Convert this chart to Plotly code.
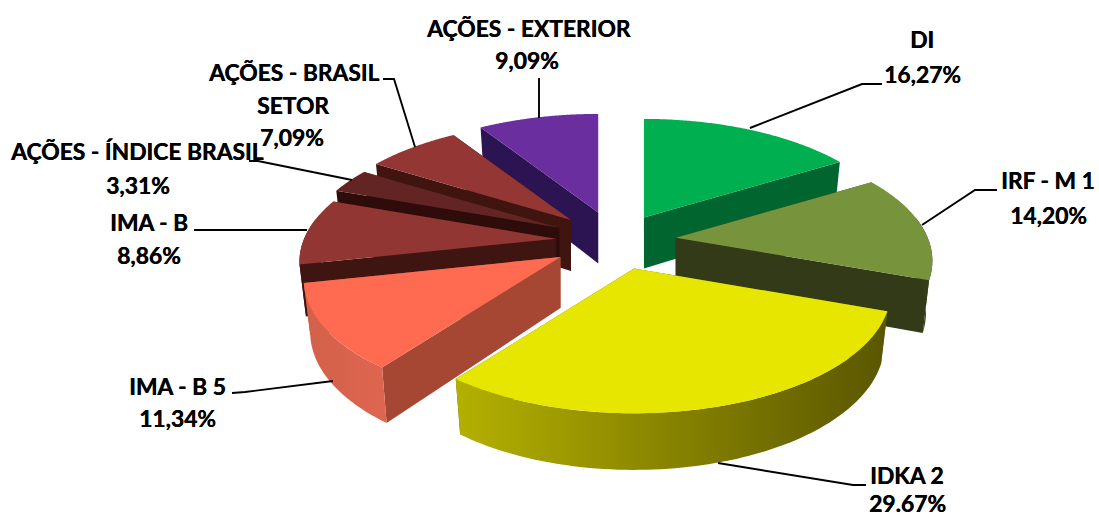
import numpy as np
import plotly.graph_objects as go

# Allocation shares, clockwise from twelve o'clock
categories = ["DI", "IRF - M 1", "IDKA 2", "IMA - B 5", "IMA - B",
              "AÇÕES - ÍNDICE BRASIL", "AÇÕES - BRASIL SETOR", "AÇÕES - EXTERIOR"]
shares = [16.27, 14.20, 29.67, 11.34, 8.86, 3.31, 7.09, 9.09]
share_labels = ["16,27%", "14,20%", "29.67%", "11,34%", "8,86%", "3,31%", "7,09%", "9,09%"]

top_colors = ["#00AF50", "#77933C", "#E6E600", "#FF6B50", "#923633", "#632523", "#943634", "#6B2E9E"]
wall_colors = ["#00652E", "#333A18", "#6B6B00", "#A64733", "#3F1511", "#2E0C0A", "#401510", "#2C1352"]
rim_stops = [
    ("#00652E", "#00652E"), ("#2F3518", "#39401B"), ("#B4B000", "#5A5600"), ("#D2604A", "#DE6650"),
    ("#3F1511", "#3F1511"), ("#2E0C0A", "#2E0C0A"), ("#401510", "#401510"), ("#2C1352", "#2C1352"),
]

# Projection of the tilted pie onto the page
CX, CY = 616.0, 240.5
RADIUS = 252.0
SQUASH = 0.465
PERSPECTIVE = 0.19
EXPLODE = [57.0, 60.0, 63.0, 66.0, 60.0, 63.0, 63.0, 63.0]
HEIGHT = 51.0
BASE_SHRINK = 0.975


def slice_origin(mid, explode):
    return CX + explode * np.sin(mid), CY - SQUASH * explode * np.cos(mid)


def rim(theta, origin, lower=False):
    depth = 1.0 / (1.0 + PERSPECTIVE * np.cos(theta))
    x = RADIUS * depth * np.sin(theta)
    y = -SQUASH * RADIUS * depth * np.cos(theta)
    if lower:
        return origin[0] + BASE_SHRINK * x, origin[1] + y + HEIGHT * np.sqrt(depth)
    return origin[0] + x, origin[1] + y


def polygon(fig, xs, ys, color=None, gradient=None):
    kw = dict(x=list(xs), y=list(ys), mode="none", fill="toself", hoverinfo="skip", showlegend=False)
    if gradient:
        kw["fillgradient"] = dict(type="horizontal",
                                  colorscale=[[0, gradient[0]], [1, gradient[1]]])
    else:
        kw["fillcolor"] = color
    fig.add_trace(go.Scatter(**kw))


def radial_wall(fig, theta, origin, color):
    tx, ty = rim(theta, origin)
    bx, by = rim(theta, origin, lower=True)
    ox, oy = origin
    polygon(fig, [ox, tx, bx, ox, ox], [oy, ty, by, oy + HEIGHT, oy], color)


fractions = np.array(shares) / sum(shares)
edges = np.concatenate([[0.0], np.cumsum(fractions)]) * 2 * np.pi

fig = go.Figure()

# Slices are painted from the far left round to the near front
for i in [7, 6, 5, 4, 3, 0, 1, 2]:
    start, end = edges[i], edges[i + 1]
    origin = slice_origin((start + end) / 2, EXPLODE[i])

    # Radial walls: the one turned away first, then the one facing the viewer
    walls = [start, end] if (start + end) / 2 < np.pi else [end, start]
    for theta in walls:
        radial_wall(fig, theta, origin, wall_colors[i])

    # Curved outer wall, only along the part of the rim facing the viewer
    lo, hi = max(start, np.radians(80)), min(end, np.radians(280))
    if hi > lo:
        t = np.linspace(lo, hi, 80)
        ux, uy = rim(t, origin)
        dx, dy = rim(t[::-1], origin, lower=True)
        polygon(fig, np.r_[ux, dx, ux[0]], np.r_[uy, dy, uy[0]], gradient=rim_stops[i])

    # Top face
    t = np.linspace(start, end, 120)
    ax, ay = rim(t, origin)
    polygon(fig, np.r_[origin[0], ax, origin[0]], np.r_[origin[1], ay, origin[1]], top_colors[i])

# Leader lines, each running from its label through an elbow to the slice
leaders = [
    ([882, 862, 750], [84, 84, 128]),
    ([997, 975, 922], [190, 190, 225]),
    ([866, 853, 718], [485, 485, 463]),
    ([232, 245, 333], [393, 392, 381]),
    ([194, 200, 307], [230, 230, 230]),
    ([249, 258, 352], [161, 161, 180]),
    ([383, 394, 415], [79, 79, 147]),
    ([539, 539, 539], [78, 78, 118]),
]
for lx, ly in leaders:
    fig.add_trace(go.Scatter(x=lx, y=ly, mode="lines",
                             line=dict(color="#000000", width=1.9),
                             hoverinfo="skip", showlegend=False))

# Label lines: text, centre x, centre y
label_lines = [
    (categories[0], 922, 39), (share_labels[0], 922, 74),
    (categories[1], 1048, 180), (share_labels[1], 1048, 215),
    (categories[2], 907, 475), (share_labels[2], 907, 503),
    (categories[3], 177, 386), (share_labels[3], 177, 418),
    (categories[4], 149, 222), (share_labels[4], 149, 255),
    (categories[5], 137, 151), (share_labels[5], 138, 185),
    ("AÇÕES - BRASIL", 293, 72), ("SETOR", 293, 105), (share_labels[6], 292, 137),
    (categories[7], 528, 28), (share_labels[7], 527, 60),
]
annotations = [
    dict(x=x, y=y, text=f"<b>{text}</b>", xref="x", yref="y", showarrow=False,
         xanchor="center", yanchor="middle",
         font=dict(family="Lato, Carlito, sans-serif", size=22.8, color="#000000",
                   shadow="0.4px 0 0 #000000"))
    for text, x, y in label_lines
]

fig.update_layout(
    width=1099, height=518,
    margin=dict(l=0, r=0, t=0, b=0),
    paper_bgcolor="#FFFFFF", plot_bgcolor="#FFFFFF",
    xaxis=dict(range=[0, 1099], visible=False, fixedrange=True),
    yaxis=dict(range=[518, 0], visible=False, fixedrange=True),
    annotations=annotations,
    showlegend=False,
)

fig.write_html("out.html")
